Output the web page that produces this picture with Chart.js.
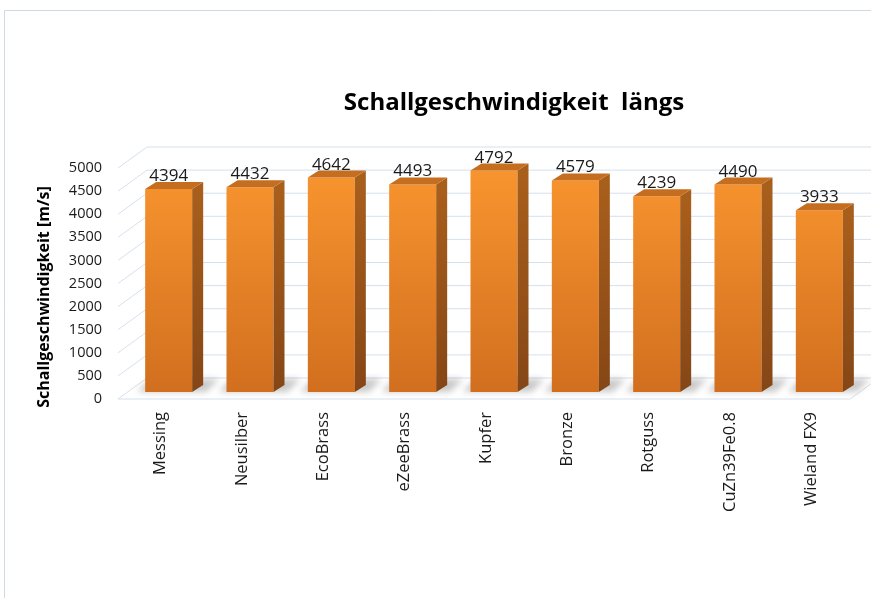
<!DOCTYPE html>
<html>
<head>
<meta charset="utf-8">
<script src="https://cdn.jsdelivr.net/npm/chart.js@4/dist/chart.umd.min.js"></script>
<style>
  html, body { margin: 0; padding: 0; background: #ffffff; }
  canvas { display: block; }
</style>
</head>
<body>
<canvas id="chart" width="871" height="598"></canvas>
<script>
// Longitudinal speed of sound per material
const materials = ['Messing', 'Neusilber', 'EcoBrass', 'eZeeBrass', 'Kupfer', 'Bronze', 'Rotguss', 'CuZn39Fe0.8', 'Wieland FX9'];
const speeds = [4394, 4432, 4642, 4493, 4792, 4579, 4239, 4490, 3933];
const yTicks = [0, 500, 1000, 1500, 2000, 2500, 3000, 3500, 4000, 4500, 5000];
const chartTitle = 'Schallgeschwindigkeit  längs';
const yAxisTitle = 'Schallgeschwindigkeit [m/s]';

const FONT = '"Open Sans", "DejaVu Sans", sans-serif';
const GRID = '#d6e0ed';

// Depth offsets (px) relative to the front face of the bars
const FRONT = { dx: -10, dy: 7 };   // front edge of the floor / tick plane
const BAR = { dx: 11, dy: -7 };     // depth of one bar
const WALL = { dx: 19, dy: -14 };   // back wall

const scene3d = {
  id: 'scene3d',
  beforeDraw(chart) {
    const { ctx, chartArea: a, scales: { y } } = chart;
    ctx.save();
    // outer frame
    ctx.strokeStyle = '#cfdae6';
    ctx.lineWidth = 1;
    ctx.beginPath();
    ctx.moveTo(4.5, chart.height);
    ctx.lineTo(4.5, 10.5);
    ctx.lineTo(chart.width, 10.5);
    ctx.stroke();

    // gridlines: slanted side wall + back wall
    ctx.strokeStyle = GRID;
    y.ticks.forEach(t => {
      const p = y.getPixelForValue(t.value);
      ctx.beginPath();
      ctx.moveTo(a.left + FRONT.dx, p + FRONT.dy);
      ctx.lineTo(a.left + WALL.dx, p + WALL.dy);
      ctx.lineTo(chart.width, p + WALL.dy);
      ctx.stroke();
    });
    // floor front and right edge
    const p0 = y.getPixelForValue(0);
    ctx.beginPath();
    ctx.moveTo(a.left + FRONT.dx, p0 + FRONT.dy);
    ctx.lineTo(a.right + FRONT.dx, p0 + FRONT.dy);
    ctx.lineTo(a.right + WALL.dx, p0 + WALL.dy);
    ctx.stroke();
    ctx.restore();
  },
  beforeDatasetsDraw(chart) {
    const { ctx } = chart;
    const bars = chart.getDatasetMeta(0).data;
    ctx.save();
    ctx.filter = 'blur(3px)';
    ctx.fillStyle = 'rgba(60,60,60,0.28)';
    bars.forEach(b => {
      const l = b.x - b.width / 2, r = b.x + b.width / 2, base = b.base;
      ctx.beginPath();
      ctx.moveTo(l - 8, base);
      ctx.lineTo(r + 14, base);
      ctx.lineTo(r + BAR.dx + 16, base + BAR.dy - 6);
      ctx.lineTo(l + BAR.dx - 6, base + BAR.dy - 6);
      ctx.closePath();
      ctx.fill();
    });
    ctx.restore();
  },
  afterDatasetsDraw(chart) {
    const { ctx } = chart;
    const meta = chart.getDatasetMeta(0);
    const values = chart.data.datasets[0].data;
    ctx.save();
    meta.data.forEach((b, i) => {
      const l = b.x - b.width / 2, r = b.x + b.width / 2, top = b.y, base = b.base;
      // side face
      const sg = ctx.createLinearGradient(0, top, 0, base);
      sg.addColorStop(0, '#a95f1c');
      sg.addColorStop(1, '#854616');
      ctx.fillStyle = sg;
      ctx.beginPath();
      ctx.moveTo(r, top);
      ctx.lineTo(r + BAR.dx, top + BAR.dy);
      ctx.lineTo(r + BAR.dx, base + BAR.dy);
      ctx.lineTo(r, base);
      ctx.closePath();
      ctx.fill();
      // top face
      ctx.fillStyle = '#c56e20';
      ctx.beginPath();
      ctx.moveTo(l, top);
      ctx.lineTo(r, top);
      ctx.lineTo(r + BAR.dx, top + BAR.dy);
      ctx.lineTo(l + BAR.dx, top + BAR.dy);
      ctx.closePath();
      ctx.fill();
      // value label
      ctx.fillStyle = '#1a1a1a';
      ctx.font = '17px ' + FONT;
      ctx.textAlign = 'center';
      ctx.textBaseline = 'alphabetic';
      ctx.fillText(String(values[i]), b.x, top - 8);
    });
    ctx.restore();
  },
  afterDraw(chart) {
    const { ctx } = chart;
    ctx.save();
    ctx.fillStyle = '#000';
    ctx.font = 'bold 24px ' + FONT;
    ctx.textAlign = 'center';
    ctx.textBaseline = 'alphabetic';
    ctx.fillText(chartTitle, 514, 110);

    ctx.translate(44, 297);
    ctx.rotate(-Math.PI / 2);
    ctx.font = 'bold 16px ' + FONT;
    ctx.textBaseline = 'middle';
    ctx.fillText(yAxisTitle, 0, 0);
    ctx.restore();
  }
};

new Chart(document.getElementById('chart'), {
  type: 'bar',
  data: {
    labels: materials,
    datasets: [{
      data: speeds,
      backgroundColor(c) {
        const a = c.chart.chartArea;
        if (!a) return '#f08a2a';
        const g = c.chart.ctx.createLinearGradient(0, a.top, 0, a.bottom);
        g.addColorStop(0, '#fa962f');
        g.addColorStop(1, '#d16f1f');
        return g;
      },
      borderWidth: 0,
      categoryPercentage: 1,
      barPercentage: 0.578
    }]
  },
  options: {
    responsive: false,
    animation: false,
    layout: { padding: { top: 161, right: 11, bottom: 0, left: 0 } },
    plugins: { legend: { display: false }, title: { display: false }, tooltip: { enabled: false } },
    scales: {
      x: {
        grid: { display: false, drawTicks: false },
        border: { display: false },
        ticks: {
          autoSkip: false, minRotation: 90, maxRotation: 90,
          padding: 20, labelOffset: -8,
          color: '#1a1a1a', font: { family: FONT, size: 16.5 }
        },
        afterFit(s) { s.height = 206; }
      },
      y: {
        min: 0, max: 5000,
        afterBuildTicks(s) { s.ticks = yTicks.map(v => ({ value: v })); },
        grid: { display: false, drawTicks: false },
        border: { display: false },
        ticks: {
          padding: 26, labelOffset: 7,
          callback: v => String(v),
          color: '#1a1a1a', font: { family: FONT, size: 14.5 }
        },
        afterFit(s) { s.width = 128; }
      }
    }
  },
  plugins: [scene3d]
});
</script>
</body>
</html>
